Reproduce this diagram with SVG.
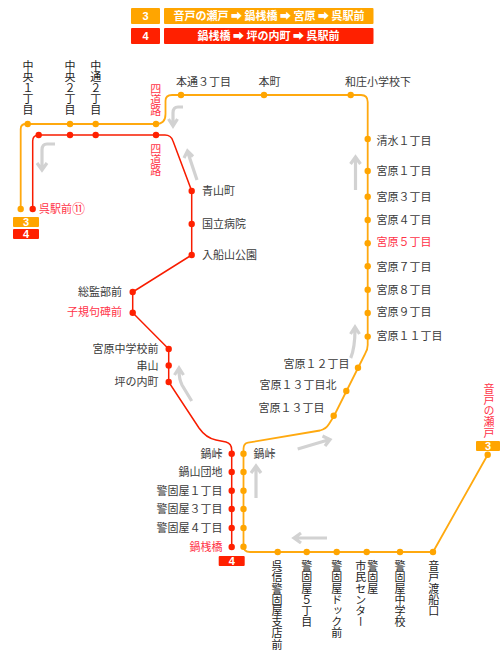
<svg xmlns="http://www.w3.org/2000/svg" width="504" height="660" viewBox="0 0 504 660">
<style>
text{font-family:"Noto Sans CJK JP","Liberation Sans",sans-serif;font-size:11px;fill:#3a3a3a}
.r{text-anchor:end}
.hot{fill:#ff3348}
.v{writing-mode:vertical-rl;text-orientation:upright;fill:#222;letter-spacing:.2px}
.vhot{writing-mode:vertical-rl;text-orientation:upright;fill:#ff3348;letter-spacing:.2px}
.o{fill:#ffa500}
.d{fill:#ff2000}
.lo{fill:none;stroke:#ffa90f;stroke-width:1.800}
.ld{fill:none;stroke:#f81c00;stroke-width:1.500}
.a{fill:none;stroke:#d2d2d2;stroke-width:3.200}
.w{fill:#fff;font-weight:700;text-anchor:middle}
.t{fill:#fff;font-family:"Liberation Sans",sans-serif;font-weight:700;font-size:11px;text-anchor:middle}
</style>
<g id="legend">
<rect class="o" x="131" y="8" width="29" height="16" rx="1"/><text class="t" x="145.500" y="20">3</text>
<rect class="o" x="164" y="8" width="209.500" height="16" rx="1"/><text class="w" x="269" y="20">音戸の瀬戸 ➡ 鍋桟橋 ➡ 宮原 ➡ 呉駅前</text>
<rect class="d" x="131" y="28" width="29" height="16" rx="1"/><text class="t" x="145.500" y="40">4</text>
<rect class="d" x="164" y="28" width="209.500" height="16" rx="1"/><text class="w" x="268.500" y="40">鍋桟橋 ➡ 坪の内町 ➡ 呉駅前</text>
</g>
<g id="connectors">
<path class="lo" d="M20.700 209V129Q20.700 124 26 124H156Q165.500 124 165.500 114V101Q165.500 95 172 95H361Q367.700 95 367.700 102V345Q367.700 350 365 354L334 416L329 424Q326 429 320 430.500L248 442.700Q243.500 443.500 243.500 449V546Q243.500 552 250 552H433L487.700 454.700"/>
<path class="ld" d="M32.700 209V141Q32.700 135 39 135H165Q171 135 173 141L191.700 191V255L132.700 292V312.700L168.700 349V382L199 428Q206 438 216 440L226 442Q231.700 443.500 231.700 450V547"/>
<g id="direction-arrows">
<path class="a" d="M55 144H47Q42 144 42 150V169M37 163L42 170L47 163"/>
<path class="a" d="M183 107H178Q173 107 173 113V125M168.500 119L173 126L177.500 119"/>
<path class="a" d="M197 180L188 153M184 158L187.500 151L193 156.500"/>
<path class="a" d="M355.500 190V158M350.500 164L355.500 157L360.500 164"/>
<path class="a" d="M350.700 358Q355 348 355 329M350.500 334L355 327L359.500 334"/>
<path class="a" d="M297.700 449L328 440M322.500 436L330 439.500L325 446"/>
<path class="a" d="M256 498V467M251 473L256 466L261 473"/>
<path class="a" d="M327 538H295M301 533L294 538L301 543"/>
<path class="a" d="M191.700 401L182 385Q179 379 179 370M174.500 375L179 368L183.500 375"/>
</g>
</g>
<g id="tag-3-start"><rect class="o" x="13" y="217" width="26" height="10" rx="1"/><text class="t" x="26" y="226">3</text></g>
<g id="tag-4-start"><rect class="d" x="13" y="229" width="26" height="10" rx="1"/><text class="t" x="26" y="238">4</text></g>
<g id="tag-4-end"><rect class="d" x="218.700" y="556" width="26" height="10" rx="1"/><text class="t" x="231.700" y="565">4</text></g>
<g id="tag-3-end"><rect class="o" x="476" y="441" width="24" height="10" rx="1"/><text class="t" x="488" y="450">3</text></g>
<g id="s1"><circle class="o" cx="20.700" cy="209" r="3.200"/></g>
<g id="s2"><circle class="d" cx="32.700" cy="209" r="3.200"/><text class="hot" x="39" y="212.500">呉駅前<tspan font-size="13">⑪</tspan></text></g>
<g id="s3"><circle class="o" cx="27.700" cy="124" r="3.200"/><circle class="d" cx="38.700" cy="135" r="3.200"/><text class="v" x="28" y="60">中央１丁目</text></g>
<g id="s4"><circle class="o" cx="70" cy="124" r="3.200"/><circle class="d" cx="70" cy="135" r="3.200"/><text class="v" x="70" y="60">中央２丁目</text></g>
<g id="s5"><circle class="o" cx="95.700" cy="124" r="3.200"/><circle class="d" cx="95.700" cy="135" r="3.200"/><text class="v" x="95.700" y="60">中通２丁目</text></g>
<g id="s6"><circle class="o" cx="156" cy="124" r="3.200"/><text class="vhot" x="155.700" y="83">四道路</text></g>
<g id="s7"><circle class="d" cx="156" cy="135" r="3.200"/><text class="vhot" x="155.700" y="143">四道路</text></g>
<g id="s8"><circle class="o" cx="181" cy="95" r="3.200"/><text x="176" y="86">本通３丁目</text></g>
<g id="s9"><circle class="o" cx="264" cy="95" r="3.200"/><text x="258.500" y="86">本町</text></g>
<g id="s10"><circle class="o" cx="350.700" cy="95" r="3.200"/><text x="345" y="86">和庄小学校下</text></g>
<g id="s11"><circle class="o" cx="367.700" cy="139" r="3.200"/><text x="376.500" y="144.500">清水１丁目</text></g>
<g id="s12"><circle class="o" cx="367.700" cy="171" r="3.200"/><text x="376.500" y="175">宮原１丁目</text></g>
<g id="s13"><circle class="o" cx="367.700" cy="196.700" r="3.200"/><text x="376.500" y="200.500">宮原３丁目</text></g>
<g id="s14"><circle class="o" cx="367.700" cy="220" r="3.200"/><text x="376.500" y="224">宮原４丁目</text></g>
<g id="s15"><circle class="o" cx="367.700" cy="243.300" r="3.200"/><text class="hot" x="376.500" y="246">宮原５丁目</text></g>
<g id="s16"><circle class="o" cx="367.700" cy="266.300" r="3.200"/><text x="376.500" y="270.500">宮原７丁目</text></g>
<g id="s17"><circle class="o" cx="367.700" cy="289.700" r="3.200"/><text x="376.500" y="293.500">宮原８丁目</text></g>
<g id="s18"><circle class="o" cx="367.700" cy="313" r="3.200"/><text x="376.500" y="315.500">宮原９丁目</text></g>
<g id="s19"><circle class="o" cx="367.700" cy="336.600" r="3.200"/><text x="376.500" y="339.500">宮原１１丁目</text></g>
<g id="s20"><circle class="o" cx="358" cy="367.700" r="3.200"/><text class="r" x="349.500" y="368">宮原１２丁目</text></g>
<g id="s21"><circle class="o" cx="346.300" cy="391" r="3.200"/><text class="r" x="336.500" y="389">宮原１３丁目北</text></g>
<g id="s22"><circle class="o" cx="333.700" cy="415.700" r="3.200"/><text class="r" x="324.500" y="412">宮原１３丁目</text></g>
<g id="s23"><circle class="o" cx="243.500" cy="453.700" r="3.200"/><text x="253.500" y="458">鍋峠</text></g>
<g id="s24"><circle class="o" cx="243.500" cy="472" r="3.200"/></g>
<g id="s25"><circle class="o" cx="243.500" cy="490.700" r="3.200"/></g>
<g id="s26"><circle class="o" cx="243.500" cy="509" r="3.200"/></g>
<g id="s27"><circle class="o" cx="243.500" cy="528" r="3.200"/></g>
<g id="s28"><circle class="o" cx="243.500" cy="546.700" r="3.200"/></g>
<g id="s29"><circle class="o" cx="277.700" cy="552" r="3.200"/><text class="v" x="277" y="560.500">呉信警固屋支店前</text></g>
<g id="s30"><circle class="o" cx="306.700" cy="552" r="3.200"/><text class="v" x="306.700" y="560.500">警固屋５丁目</text></g>
<g id="s31"><circle class="o" cx="336.700" cy="552" r="3.200"/><text class="v" x="336.700" y="560.500">警固屋ドック前</text></g>
<g id="s32"><circle class="o" cx="366.700" cy="552" r="3.200"/><text class="v" x="372.700" y="560.500">警固屋</text><text class="v" x="360.700" y="560.500">市民センター</text></g>
<g id="s33"><circle class="o" cx="400" cy="552" r="3.200"/><text class="v" x="400" y="560.500">警固屋中学校</text></g>
<g id="s34"><circle class="o" cx="433" cy="552" r="3.200"/><text class="v" x="433.700" y="560.500">音戸渡船口</text></g>
<g id="s35"><circle class="o" cx="487.700" cy="454.700" r="3.200"/><text class="vhot" x="489" y="383">音戸の瀬戸</text></g>
<g id="s40"><circle class="d" cx="191.700" cy="191" r="3.200"/><text x="202" y="195">青山町</text></g>
<g id="s41"><circle class="d" cx="191.700" cy="224" r="3.200"/><text x="202" y="228">国立病院</text></g>
<g id="s42"><circle class="d" cx="191.700" cy="255" r="3.200"/><text x="202" y="259">入船山公園</text></g>
<g id="s43"><circle class="d" cx="132.700" cy="292" r="3.200"/><text class="r" x="122" y="295.500">総監部前</text></g>
<g id="s44"><circle class="d" cx="132.700" cy="312.700" r="3.200"/><text class="hot r" x="122" y="316">子規句碑前</text></g>
<g id="s45"><circle class="d" cx="168.700" cy="349" r="3.200"/><text class="r" x="158.500" y="353">宮原中学校前</text></g>
<g id="s46"><circle class="d" cx="168.700" cy="365.500" r="3.200"/><text class="r" x="158.500" y="370">串山</text></g>
<g id="s47"><circle class="d" cx="168.700" cy="382" r="3.200"/><text class="r" x="158.500" y="386">坪の内町</text></g>
<g id="s48"><circle class="d" cx="231.700" cy="453.700" r="3.200"/><text class="r" x="222.500" y="458">鍋峠</text></g>
<g id="s49"><circle class="d" cx="231.700" cy="472" r="3.200"/><text class="r" x="222.500" y="476">鍋山団地</text></g>
<g id="s50"><circle class="d" cx="231.700" cy="490.700" r="3.200"/><text class="r" x="222.500" y="495">警固屋１丁目</text></g>
<g id="s51"><circle class="d" cx="231.700" cy="509" r="3.200"/><text class="r" x="222.500" y="513">警固屋３丁目</text></g>
<g id="s52"><circle class="d" cx="231.700" cy="528" r="3.200"/><text class="r" x="222.500" y="532">警固屋４丁目</text></g>
<g id="s53"><circle class="d" cx="231.700" cy="547" r="3.200"/><text class="hot r" x="222.500" y="551">鍋桟橋</text></g>
</svg>
